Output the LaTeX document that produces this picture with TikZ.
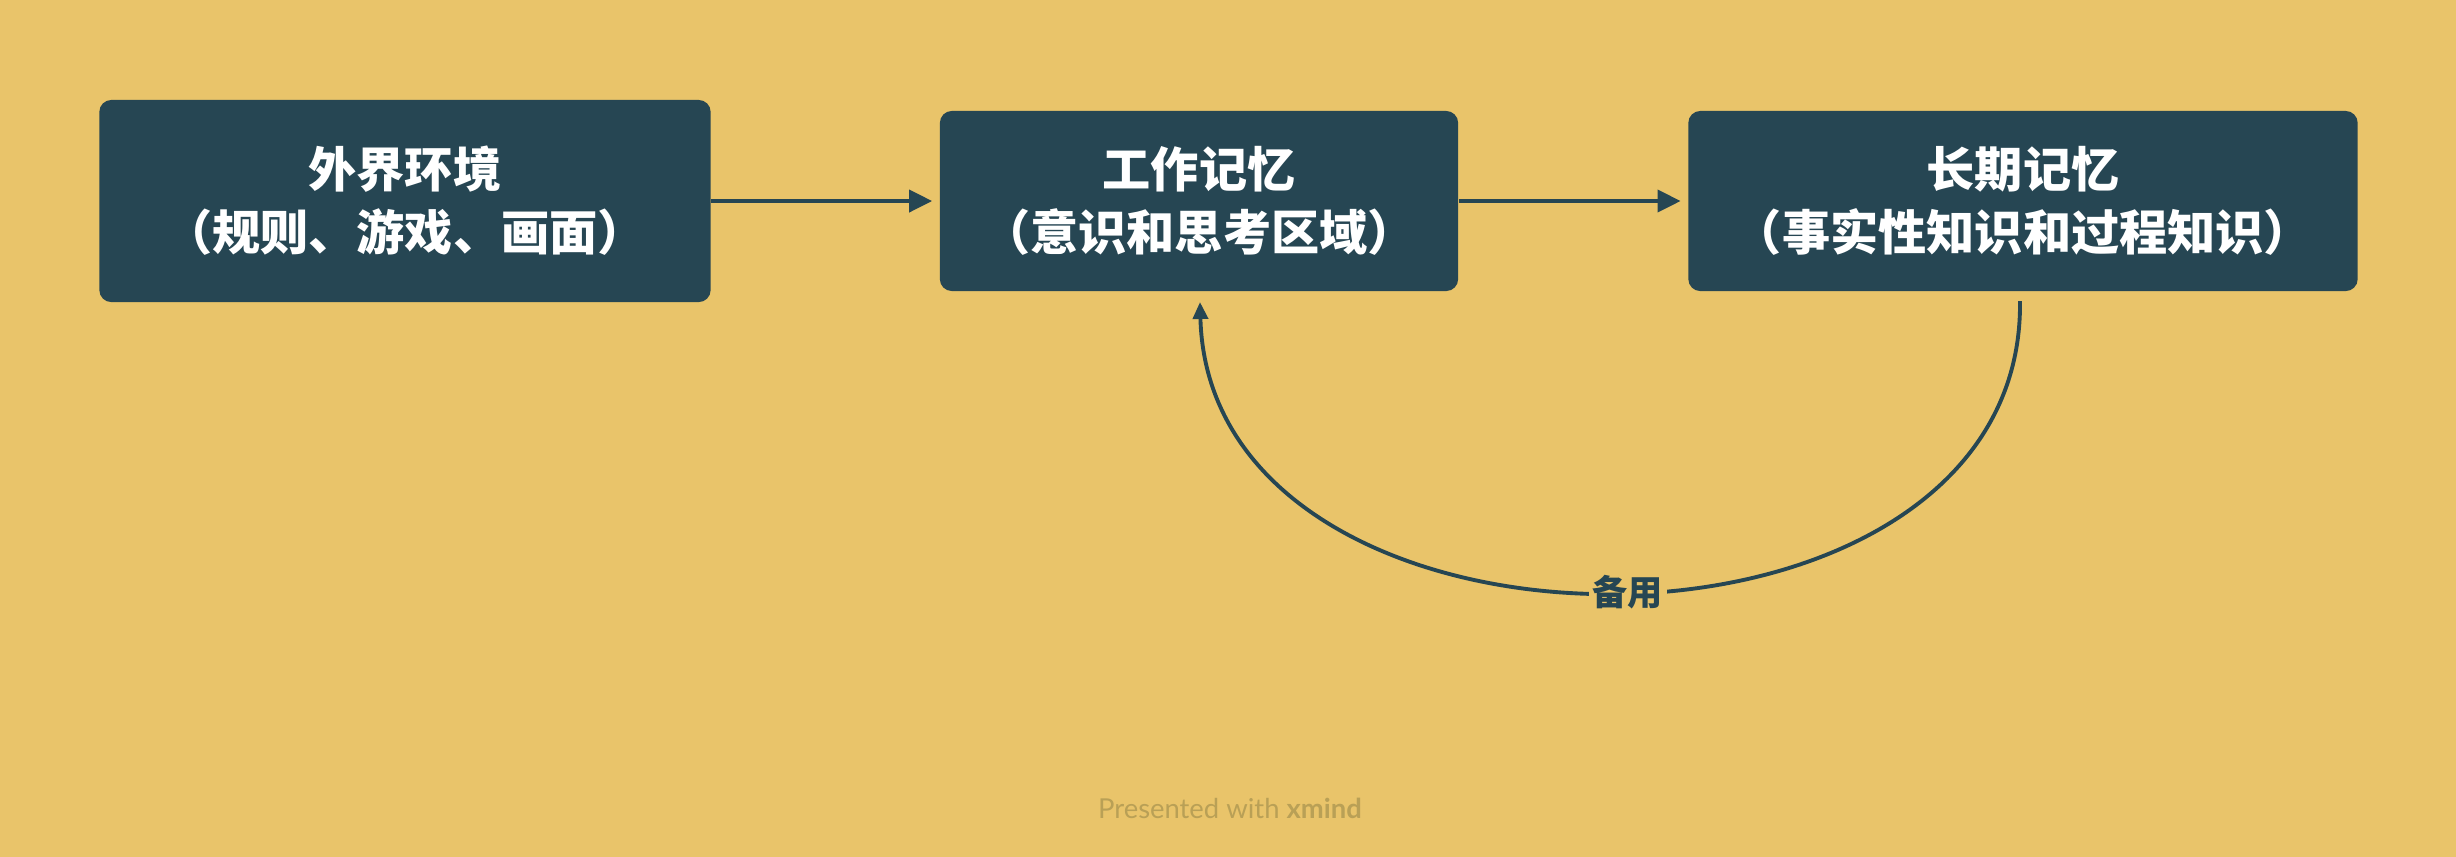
\documentclass[tikz,border=0pt]{standalone}
\usepackage{fontspec}
\usetikzlibrary{arrows.meta}
\newfontfamily\cjk{Noto Sans CJK SC}
\newfontfamily\footfont{Lato}
\definecolor{bgyellow}{HTML}{E9C46A}
\definecolor{boxblue}{HTML}{264653}
\definecolor{footgray}{HTML}{B9A056}

\begin{document}
\begin{tikzpicture}[x=0.01cm, y=-0.01cm,
    topic/.style={rectangle, rounded corners=0.12cm, fill=boxblue, text=white,
        align=center, inner sep=0pt, font=\cjk\bfseries\fontsize{13.7pt}{17.9pt}\selectfont},
    link/.style={draw=boxblue, line width=1.1pt, -{Triangle[length=0.23cm, width=0.22cm]}},
    backlink/.style={draw=boxblue, line width=1.1pt, -{Triangle[length=0.17cm, width=0.15cm]}}]

    \useasboundingbox (0, 0) rectangle (2456, 856);
    \fill[bgyellow] (-10, -10) rectangle (2466, 866);

    \node[topic, minimum width=6.11cm, minimum height=2.02cm] (env) at (405, 201) {外界环境\\（规则、游戏、画面）};
    \node[topic, minimum width=5.18cm, minimum height=1.80cm] (work) at (1199, 201) {工作记忆\\（意识和思考区域）};
    \node[topic, minimum width=6.69cm, minimum height=1.80cm] (long) at (2023, 201) {长期记忆\\（事实性知识和过程知识）};

    \draw[link] (env.east) -- ([xshift=-0.07cm]work.west);
    \draw[link] (work.east) -- ([xshift=-0.07cm]long.west);

    \coordinate (c1) at (2020, 301);
    \coordinate (c2) at (1200, 302);
    \draw[backlink] (c1) .. controls (2025, 689) and (1210, 689) .. (c2)
        node[pos=0.49, fill=bgyellow, inner sep=1pt, text=boxblue,
             font=\cjk\bfseries\fontsize{10pt}{12pt}\selectfont] (spare) {备用};

    \node[text=footgray, font=\footfont\fontsize{7.8pt}{9pt}\selectfont] (foot) at (1230, 808)
        {Presented with \textbf{xmind}};
\end{tikzpicture}
\end{document}
